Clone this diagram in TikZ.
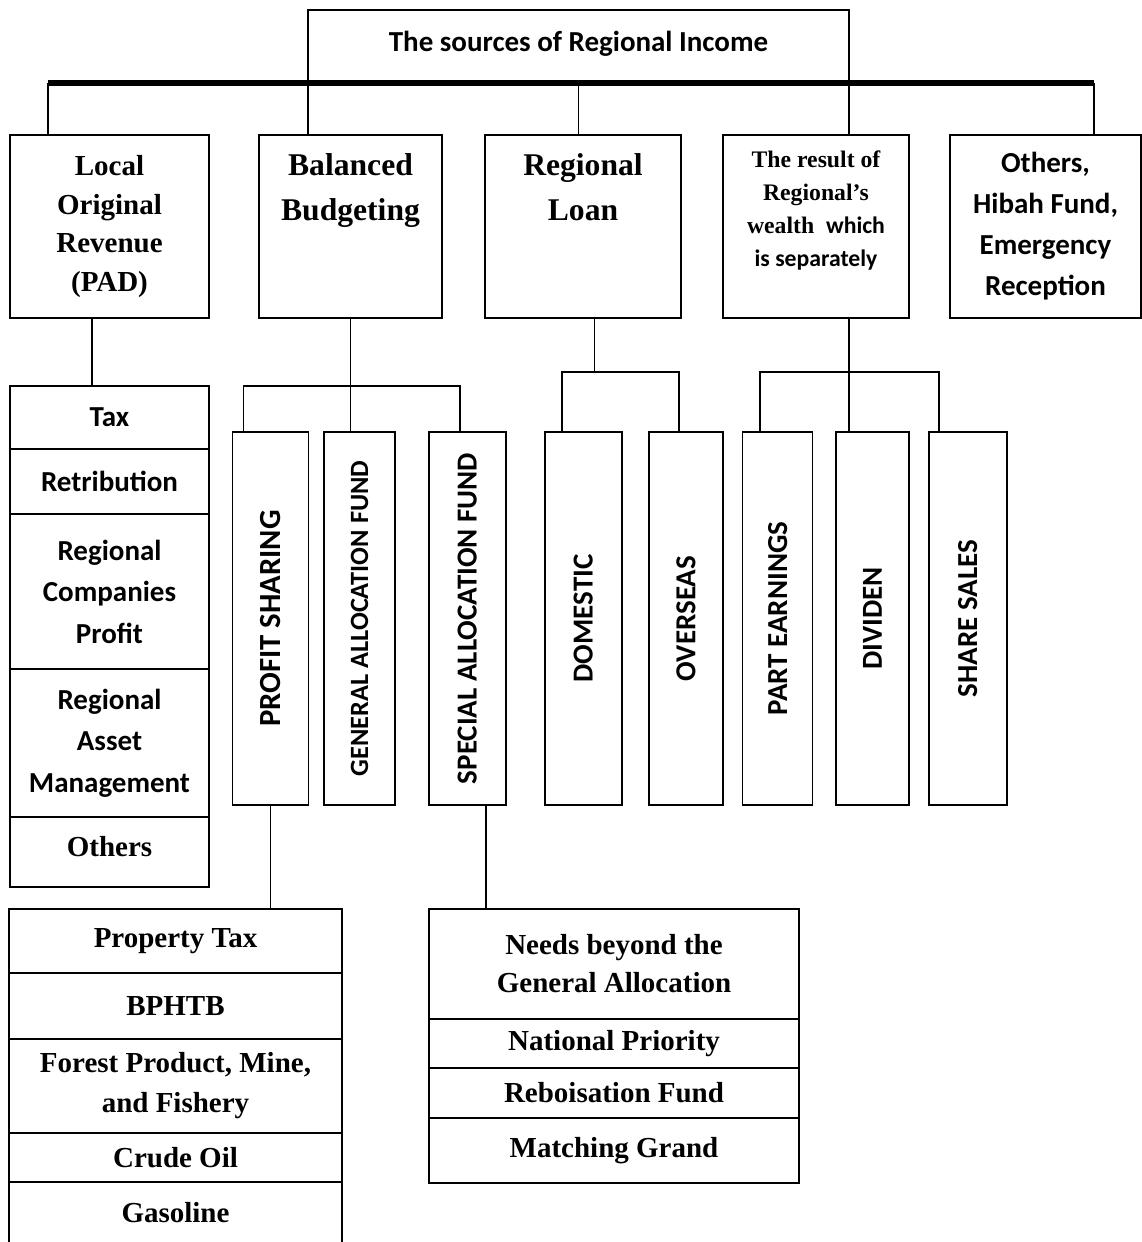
\documentclass[tikz,border=0pt]{standalone}
\usepackage{fontspec}
\setmainfont{Liberation Serif}
\newfontfamily\calibri{Carlito}
\usetikzlibrary{positioning}
\newcommand*{\px}{0.02cm}

\begin{document}
\begin{tikzpicture}[x=\px, y=-\px, box/.style={draw, line width=1pt, inner sep=0pt, outer sep=0pt, align=center},
    sized/.style 2 args={minimum width=#1*\px, minimum height=#2*\px},
    sans/.style 2 args={font=\calibri\bfseries\fontsize{#1}{#2}\selectfont},
    rom/.style 2 args={font=\rmfamily\bfseries\fontsize{#1}{#2}\selectfont},
    link/.style={line width=0.8pt}, bus/.style={line width=3.5pt}]
    \tikzstyle{vbox} = [box, sans={16.5pt}{20pt}]

    \useasboundingbox (0,0) rectangle (1142,1242);
    \clip (0,0) rectangle (1142,1242);

    \node[box, sized={541}{73}, sans={16.5pt}{20pt}, text depth=0.6em] (title) at (578.5,46.5) {The sources of Regional Income};
    \coordinate (busL) at (48,83);
    \coordinate (busR) at (1094,83);

    \node[box, sized={199}{183}, rom={16.5pt}{21.9pt}] (pad) at (109.5,226.5) {Local\\Original\\Revenue\\(PAD)};
    \node[box, sized={183}{183}, label={[rom={18pt}{25.6pt}, align=center, anchor=north, inner sep=0pt, yshift=-0.36cm]north:{Balanced\\Budgeting}}] (bal) at (350.5,226.5) {};
    \node[box, sized={196}{183}, label={[rom={18pt}{25.6pt}, align=center, anchor=north, inner sep=0pt, yshift=-0.36cm]north:{Regional\\Loan}}] (loan) at (583,226.5) {};
    \node[box, sized={186}{183}, label={[rom={13.5pt}{18.8pt}, align=center, anchor=north, inner sep=0pt, yshift=-0.3cm]north:{The result of\\Regional’s\\wealth~ {\calibri which}\\{\calibri is separately}}}] (res) at (816,226.5) {};
    \node[box, sized={191}{183}, sans={16.5pt}{23.3pt}] (oth) at (1045.5,226.5) {Others,\\Hibah Fund,\\Emergency\\Reception};

    \node[box, sized={199}{63}, sans={16.5pt}{23.6pt}] (tax) at (109.5,417.5) {Tax};
    \node[box, sized={199}{65}, sans={16.5pt}{23.6pt}, below=0pt of tax] (retr) {Retribution};
    \node[box, sized={199}{155}, sans={16.5pt}{23.6pt}, below=0pt of retr] (rcp) {Regional\\Companies\\Profit};
    \node[box, sized={199}{148}, sans={16.5pt}{23.6pt}, below=0pt of rcp] (ram) {Regional\\Asset\\Management};
    \node[box, sized={199}{70}, rom={16.5pt}{20pt}, text depth=0.6em, below=0pt of ram] (pado) {Others};

    \node[vbox, sized={76}{373}, sans={17.5pt}{20pt}] (ps) at (270.5,618.5) {\rotatebox{90}{PROFIT SHARING}};
    \node[vbox, sized={71}{373}, sans={15pt}{20pt}] (gaf) at (359.5,618.5) {\rotatebox{90}{GENERAL ALLOCATION FUND}};
    \node[vbox, sized={77}{373}] (saf) at (467.3,618.5) {\rotatebox{90}{SPECIAL ALLOCATION FUND}};
    \node[vbox, sized={77}{373}] (dom) at (583.3,618.5) {\rotatebox{90}{DOMESTIC}};
    \node[vbox, sized={74}{373}] (ovs) at (686,618.5) {\rotatebox{90}{OVERSEAS}};
    \node[vbox, sized={70}{373}] (part) at (777.6,618.5) {\rotatebox{90}{PART EARNINGS}};
    \node[vbox, sized={73}{373}] (div) at (872.5,618.5) {\rotatebox{90}{DIVIDEN}};
    \node[vbox, sized={78}{373}] (shr) at (967.8,618.5) {\rotatebox{90}{SHARE SALES}};

    \node[box, sized={333}{64}, rom={16.5pt}{22.8pt}] (proptax) at (175.5,941) {Property Tax};
    \node[box, sized={333}{66}, rom={16.5pt}{22.8pt}, below=0pt of proptax] (bphtb) {BPHTB};
    \node[box, sized={333}{94}, rom={16.5pt}{22.8pt}, below=0pt of bphtb] (forest) {Forest Product, Mine,\\and Fishery};
    \node[box, sized={333}{49}, rom={16.5pt}{22.8pt}, below=0pt of forest] (crude) {Crude Oil};
    \node[box, sized={333}{62}, rom={16.5pt}{22.8pt}, below=0pt of crude] (gas) {Gasoline};

    \node[box, sized={370}{110}, rom={16.5pt}{21.6pt}] (needs) at (614,964) {Needs beyond the\\General Allocation};
    \node[box, sized={370}{49}, rom={16.5pt}{21.6pt}, below=0pt of needs] (natp) {National Priority};
    \node[box, sized={370}{50}, rom={16.5pt}{21.6pt}, below=0pt of natp] (rebo) {Reboisation Fund};
    \node[box, sized={370}{65}, rom={16.5pt}{21.6pt}, below=0pt of rebo] (match) {Matching Grand};

    \draw[bus] (busL) -- (busR);
    \draw[link] (busL) -- (busL |- pad.north);
    \draw[link] (title.south west) -- (title.south west |- bal.north);
    \draw[link] (title.south) -- (title.south |- loan.north);
    \draw[link] (title.south east) -- (title.south east |- res.north);
    \draw[link] (busR) -- (busR |- oth.north);

    \draw[link] ([xshift=-0.35cm]pad.south) -- ([xshift=-0.35cm]tax.north);
    \draw[link] (bal.south) -- (bal.south |- gaf.north);
    \draw[link] ([xshift=-0.54cm]ps.north) |- ([xshift=-0.15cm, yshift=0.92cm]saf.north) -- ([xshift=-0.15cm]saf.north);
    \draw[link] ([xshift=0.23cm]loan.south) -- ++(0,54);
    \draw[link] ([xshift=-0.43cm]dom.north) |- ([xshift=-0.14cm, yshift=1.2cm]ovs.north) -- ([xshift=-0.14cm]ovs.north);
    \draw[link] (title.south east |- res.south) -- (title.south east |- div.north);
    \draw[link] ([xshift=-0.35cm]part.north) |- ([xshift=-0.58cm, yshift=1.2cm]shr.north) -- ([xshift=-0.58cm]shr.north);

    \draw[link] (ps.south) -- (ps.south |- proptax.north);
    \draw[link] ([xshift=0.37cm]saf.south) -- ([xshift=0.37cm]saf.south |- needs.north);
\end{tikzpicture}
\end{document}
